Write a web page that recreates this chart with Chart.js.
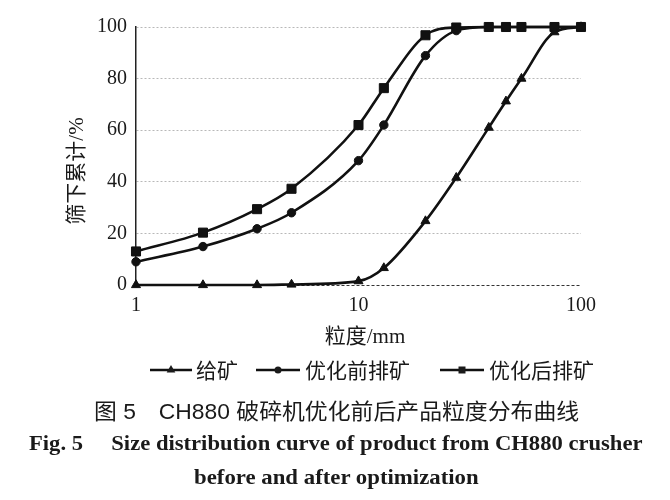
<!DOCTYPE html>
<html>
<head>
<meta charset="utf-8">
<script src="https://cdn.jsdelivr.net/npm/chart.js@4.4.1/dist/chart.umd.min.js"></script>
<style>
    html, body { margin: 0; padding: 0; background: #fff; }
    #wrap { position: relative; width: 670px; height: 500px; overflow: hidden; }
    #chart-utama { position: absolute; left: 0; top: 0; }
    .cap { position: absolute; white-space: nowrap; line-height: 1; color: #1a1a1a; transform-origin: 0 50%; }
    #cap1 { left: 94px; top: 393px; font: 22px "Liberation Sans", "Noto Sans CJK SC"; }
    #cap2 { left: 29px; top: 430px; font: bold 22px "Liberation Serif", "Noto Sans CJK SC"; }
    #cap3 { left: 194px; top: 464px; font: bold 22px "Liberation Serif", "Noto Sans CJK SC"; }
</style>
</head>
<body>
<div id="wrap">
    <canvas id="chart-utama" width="670" height="500"></canvas>
    <div class="cap" id="cap1" data-w="485">图 5&emsp;CH880 破碎机优化前后产品粒度分布曲线</div>
    <div class="cap" id="cap2" data-w="614">Fig. 5&emsp; Size distribution curve of product from CH880 crusher</div>
    <div class="cap" id="cap3" data-w="285">before and after optimization</div>
</div>
<script>
// 粒度 (mm), log axis
const ukuran = [1, 2, 3.5, 5, 10, 13, 20, 27.5, 38.5, 46, 54, 76, 100];
// 筛下累计 (%)
const geiKuang = [0, 0, 0, 0.2, 1.5, 6.6, 24.8, 41.6, 61, 71.2, 80, 98, 100];
const sebelum = [9, 14.9, 21.8, 28, 48.2, 62, 88.9, 98.6, 100, 100, 100, 100, 100];
const sesudah = [13, 20.3, 29.4, 37.3, 62, 76.3, 96.8, 99.8, 100, 100, 100, 100, 100];
const namaSeri = ["给矿", "优化前排矿", "优化后排矿"];
const tickX = [1, 10, 100];
const tickY = [0, 20, 40, 60, 80, 100];
const judulX = "粒度/mm";
const judulY = "筛下累计/%";

const ctx = document.getElementById("chart-utama");

function titik(arr) {
    return arr.map((v, i) => ({ x: ukuran[i], y: v }));
}

function gambarMarker(c, gaya, x, y, r) {
    c.beginPath();
    if (gaya === "triangle") {
        c.moveTo(x, y - r);
        c.lineTo(x + r * 0.866, y + r * 0.5);
        c.lineTo(x - r * 0.866, y + r * 0.5);
        c.closePath();
    } else if (gaya === "rect") {
        c.rect(x - r, y - r, 2 * r, 2 * r);
    } else {
        c.arc(x, y, r, 0, Math.PI * 2);
    }
    c.fill();
}

const teksPlugin = {
    id: "teks",
    afterDraw(chart) {
        const c = chart.ctx;
        c.save();
        c.fillStyle = "#1a1a1a";
        c.strokeStyle = "#111";
        c.textBaseline = "middle";
        c.textAlign = "center";
        c.font = '21px "Liberation Serif", "Noto Sans CJK SC"';
        c.fillText(judulX, 365, 337);
        c.save();
        c.translate(77, 171);
        c.rotate(-Math.PI / 2);
        c.fillText(judulY, 0, 0);
        c.restore();

        // legenda
        const item = [
            { x1: 150, x2: 192, tx: 196, r: 5 },
            { x1: 256, x2: 300, tx: 305, r: 3.5 },
            { x1: 440, x2: 484, tx: 489, r: 3.5 },
        ];
        const y = 370;
        c.font = '21px "Noto Sans CJK SC"';
        c.textAlign = "left";
        chart.data.datasets.forEach((ds, i) => {
            const it = item[i];
            c.lineWidth = 2.4;
            c.beginPath();
            c.moveTo(it.x1, y);
            c.lineTo(it.x2, y);
            c.stroke();
            gambarMarker(c, ds.pointStyle, (it.x1 + it.x2) / 2, y, it.r);
            c.fillText(namaSeri[i], it.tx, y);
        });
        c.restore();
    },
};

const umum = {
    borderColor: "#111",
    backgroundColor: "#111",
    pointBackgroundColor: "#111",
    pointBorderColor: "#111",
    pointBorderWidth: 1,
    borderWidth: 2.6,
    cubicInterpolationMode: "monotone",
    clip: false,
};

const mychart = new Chart(ctx, {
    type: "line",
    data: {
        datasets: [
            { ...umum, label: namaSeri[0], data: titik(geiKuang), pointStyle: "triangle", pointRadius: 5.2 },
            { ...umum, label: namaSeri[1], data: titik(sebelum), pointStyle: "circle", pointRadius: 4.2 },
            { ...umum, label: namaSeri[2], data: titik(sesudah), pointStyle: "rect", pointRadius: 6.4 },
        ],
    },
    options: {
        responsive: false,
        animation: false,
        layout: { padding: { left: 0, top: 27, right: 89, bottom: 175 } },
        plugins: {
            legend: { display: false },
            tooltip: { enabled: false },
        },
        scales: {
            x: {
                type: "logarithmic",
                min: 1,
                max: 100,
                afterBuildTicks: (s) => { s.ticks = tickX.map((v) => ({ value: v })); },
                afterFit: (s) => { s.height = 40; },
                grid: { display: false, drawTicks: false },
                border: { display: false },
                ticks: {
                    padding: 9,
                    color: "#1a1a1a",
                    maxRotation: 0,
                    font: { family: "Liberation Serif", size: 20 },
                    callback: (v) => String(v),
                },
            },
            y: {
                min: 0,
                max: 100,
                afterBuildTicks: (s) => { s.ticks = tickY.map((v) => ({ value: v })); },
                afterFit: (s) => { s.width = 136; },
                grid: {
                    drawTicks: false,
                    lineWidth: 1,
                    color: (c) => (c.tick && c.tick.value === 0 ? "#333" : "#b8b8b8"),
                },
                border: {
                    display: true,
                    color: "#222",
                    width: 1.5,
                    dash: (c) => (c.tick && c.tick.value === 0 ? [3, 2] : [2, 2]),
                },
                ticks: {
                    padding: 9,
                    color: "#1a1a1a",
                    font: { family: "Liberation Serif", size: 20 },
                },
            },
        },
    },
    plugins: [teksPlugin],
});

// sesuaikan lebar keterangan gambar
document.querySelectorAll(".cap").forEach((el) => {
    const w = el.scrollWidth;
    const target = parseFloat(el.dataset.w);
    el.style.transform = "scaleX(" + (target / w).toFixed(3) + ")";
});
</script>
</body>
</html>
